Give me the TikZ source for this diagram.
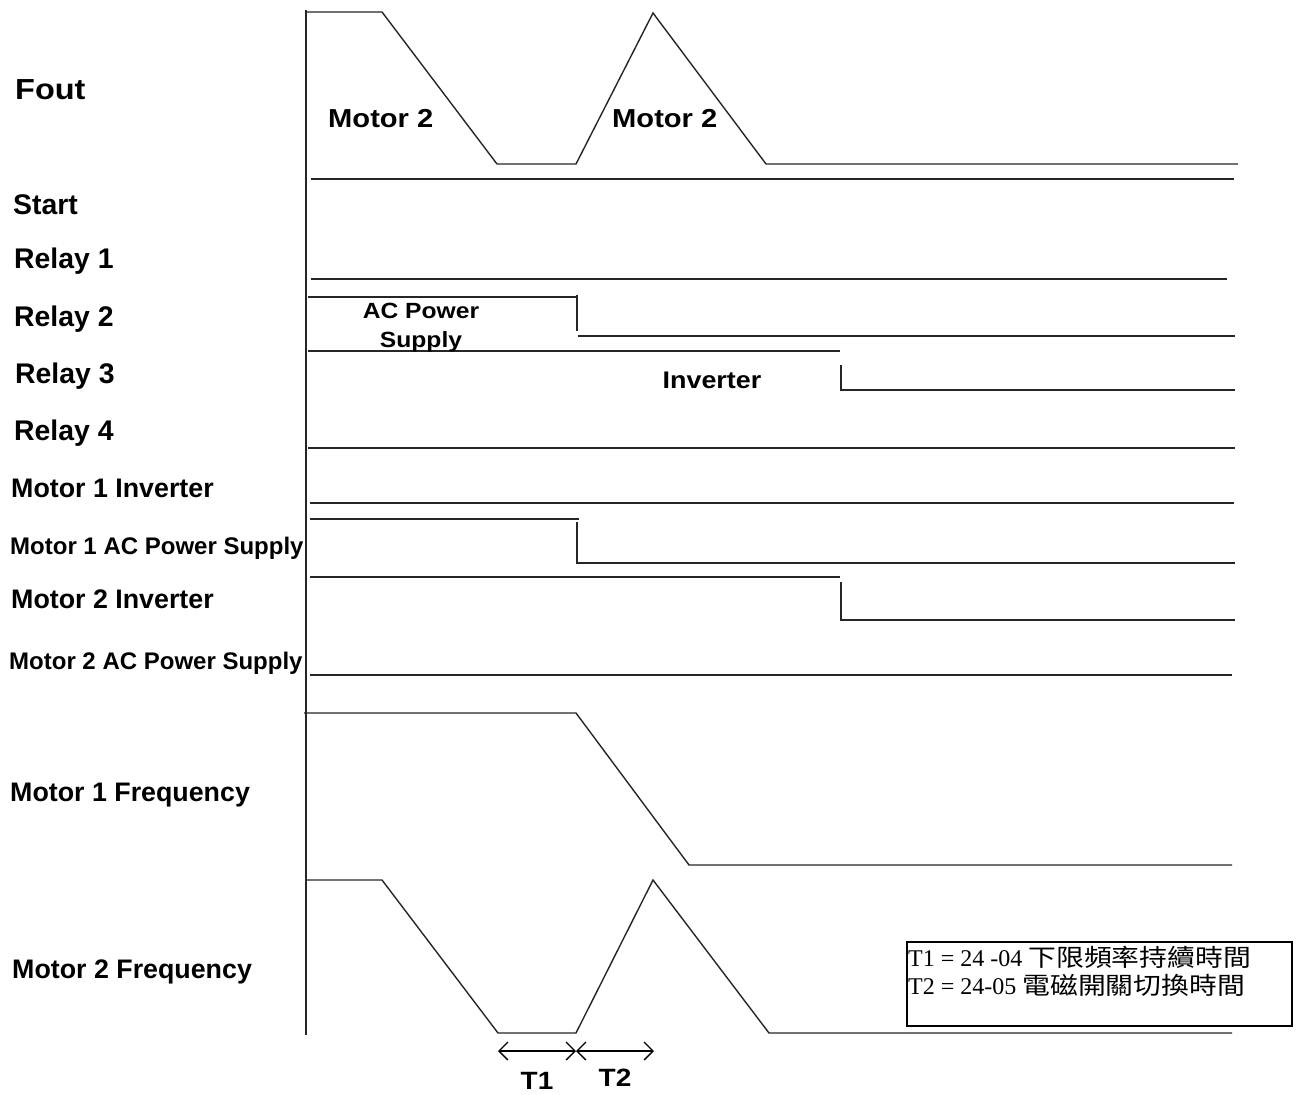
\documentclass[tikz,border=0pt]{standalone}
\usepackage{fontspec}
\setmainfont{Liberation Sans}
\newfontfamily\lab{Liberation Sans}
\newfontfamily\labw[FakeStretch=1.12]{Liberation Sans}
\newfontfamily\serf{Liberation Serif}
\newfontfamily\cjk[FakeStretch=1.16]{Noto Sans CJK TC}
\usetikzlibrary{arrows.meta}
\begin{document}
\begin{tikzpicture}[x=1pt,y=-1pt,
  sig/.style={line width=1.4pt, draw=black!85, line join=miter},
  lbl/.style={anchor=base west, inner sep=0pt, font=\lab\bfseries\fontsize{26.8}{30}\selectfont},
  rlbl/.style={anchor=base west, inner sep=0pt, font=\lab\bfseries\fontsize{28.4}{32}\selectfont},
  slbl/.style={anchor=base west, inner sep=0pt, font=\lab\bfseries\fontsize{24}{27}\selectfont},
  wlbl/.style={anchor=base, inner sep=0pt, font=\labw\bfseries\fontsize{22}{26}\selectfont},
  mlbl/.style={anchor=base west, inner sep=0pt, font=\labw\bfseries\fontsize{26}{30}\selectfont},
  note/.style={anchor=base west, inner sep=0pt, font=\serf\fontsize{24}{28}\selectfont},
  tarrow/.style={line width=1.3pt, {Straight Barb[length=9pt,width=18pt,line width=1.3pt]}-{Straight Barb[length=9pt,width=18pt,line width=1.3pt]}}
]
\useasboundingbox (0,0) rectangle (1302,1095);

% axis
\draw[sig, line width=1.6pt] (306,10) -- (306,1035);

% Fout
\draw[sig] (306,12) -- (382,12) -- (497,164) -- (576,164) -- (653,13) -- (766,164) -- (1238,164);
% Start
\draw[sig] (311,179) -- (1234,179);
% Relay 1
\draw[sig] (311,279) -- (1227,279);
% Relay 2
\draw[sig] (308,297) -- (578,297);
\draw[sig] (577,295) -- (577,331);
\draw[sig] (578,336) -- (1235,336);
% Relay 3
\draw[sig] (308,351) -- (840,351);
\draw[sig] (841,365) -- (841,390) -- (1235,390);
% Relay 4
\draw[sig] (308,448) -- (1235,448);
% Motor 1 Inverter
\draw[sig] (310,503) -- (1234,503);
% Motor 1 AC
\draw[sig] (310,519) -- (579,519);
\draw[sig] (577,522) -- (577,563) -- (1235,563);
% Motor 2 Inverter
\draw[sig] (310,577) -- (840,577);
\draw[sig] (841,582) -- (841,620) -- (1235,620);
% Motor 2 AC
\draw[sig] (310,675) -- (1232,675);
% Motor 1 Frequency
\draw[sig] (304,713) -- (576,713) -- (689,865) -- (1232,865);
% Motor 2 Frequency
\draw[sig] (306,880) -- (382,880) -- (498,1033) -- (576,1033) -- (653,880) -- (769,1033) -- (1232,1033);

% labels
\node[mlbl, font=\labw\bfseries\fontsize{29}{33}\selectfont] (fout) at (15,99) {Fout};
\node[rlbl] (start) at (13,214) {Start};
\node[rlbl] (r1) at (14,268) {Relay 1};
\node[rlbl] (r2) at (14,326) {Relay 2};
\node[rlbl] (r3) at (15,383) {Relay 3};
\node[rlbl] (r4) at (14,440) {Relay 4};
\node[lbl] (m1i) at (11,497) {Motor 1 Inverter};
\node[slbl] (m1a) at (10,554) {Motor 1 AC Power Supply};
\node[lbl] (m2i) at (11,608) {Motor 2 Inverter};
\node[slbl] (m2a) at (9,669) {Motor 2 AC Power Supply};
\node[lbl] (m1f) at (10,801) {Motor 1 Frequency};
\node[lbl] (m2f) at (12,978) {Motor 2 Frequency};

\node[mlbl] (mA) at (328,127) {Motor 2};
\node[mlbl] (mB) at (612,127) {Motor 2};
\node[wlbl] (acp) at (421,318) {AC Power};
\node[wlbl] (sup) at (421,347) {Supply};
\node[wlbl, font=\labw\bfseries\fontsize{24}{28}\selectfont] (inv) at (712,388) {Inverter};

% note box
\draw[line width=1.6pt] (907,942) rectangle (1292,1026);
\node[note] (n1) at (908,966) {T1 = 24 -04 {\cjk\fontsize{24}{28}\selectfont 下限頻率持續時間}};
\node[note] (n2) at (908,994) {T2 = 24-05 {\cjk\fontsize{24}{28}\selectfont 電磁開關切換時間}};

% T1/T2 arrows
\coordinate (a0) at (498,1051);
\coordinate (a1) at (576,1051);
\coordinate (a2) at (654,1051);
\draw[tarrow] (a0) -- (a1);
\draw[tarrow] (a1) -- (a2);
\node[wlbl, font=\labw\bfseries\fontsize{25}{28}\selectfont] (t1) at (537,1089) {T1};
\node[wlbl, font=\labw\bfseries\fontsize{25}{28}\selectfont] (t2) at (615,1086) {T2};
\end{tikzpicture}
\end{document}
